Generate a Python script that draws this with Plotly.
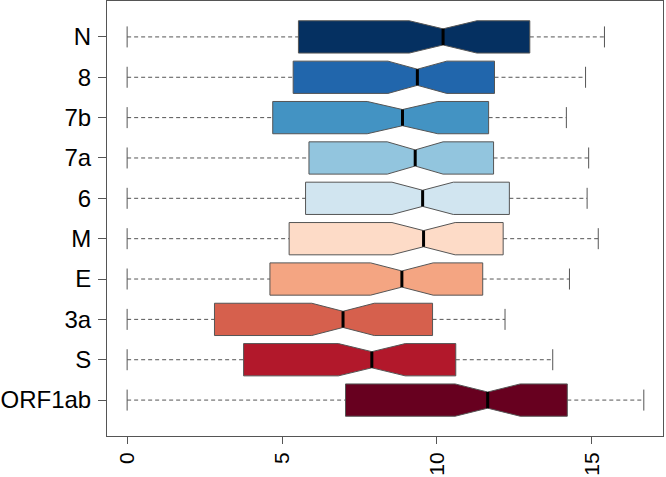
import plotly.graph_objects as go

# Data (bottom to top)
genes = ["ORF1ab", "S", "3a", "E", "M", "6", "7a", "7b", "8", "N"]
mins = [0, 0, 0, 0, 0, 0, 0, 0, 0, 0]
q1 = [7.05, 3.76, 2.82, 4.61, 5.23, 5.76, 5.87, 4.70, 5.36, 5.53]
medians = [11.64, 7.90, 6.97, 8.87, 9.57, 9.54, 9.30, 8.89, 9.37, 10.20]
q3 = [14.21, 10.61, 9.86, 11.48, 12.14, 12.34, 11.83, 11.67, 11.86, 13.00]
maxs = [16.68, 13.74, 12.20, 14.28, 15.21, 14.85, 14.90, 14.18, 14.80, 15.41]
notch_half = [1.05, 1.08, 1.01, 1.01, 1.02, 0.99, 0.90, 1.14, 0.95, 1.09]
colors = ["#67001f", "#b2182b", "#d6604d", "#f4a582", "#fddbc7",
          "#d1e5f0", "#92c5de", "#4393c3", "#2166ac", "#053061"]
xticks = [0, 5, 10, 15]

BOX_W = 0.8
NOTCH_W = 0.25
edge = "#555555"

fig = go.Figure()
for i, g in enumerate(genes):
    # dashed whiskers
    fig.add_trace(go.Scatter(
        x=[mins[i], q1[i], None, q3[i], maxs[i]], y=[i, i, None, i, i],
        mode="lines", line=dict(color=edge, width=1, dash="4px,3px"),
        hoverinfo="skip", showlegend=False))
    # whisker caps
    fig.add_trace(go.Scatter(
        x=[mins[i], maxs[i]], y=[i, i], mode="markers",
        marker=dict(symbol="line-ns", size=15, line=dict(color=edge, width=1)),
        hoverinfo="skip", showlegend=False))
    # notched box
    fig.add_trace(go.Box(
        orientation="h", y=[i], q1=[q1[i]], median=[medians[i]], q3=[q3[i]],
        lowerfence=[q1[i]], upperfence=[q3[i]], notched=True,
        notchspan=[notch_half[i]], notchwidth=NOTCH_W, width=BOX_W,
        whiskerwidth=0, fillcolor=colors[i],
        line=dict(color=edge, width=1), showlegend=False, name=g))
    # thick median
    half = BOX_W / 2 * (1 - 2 * NOTCH_W)
    fig.add_trace(go.Scatter(
        x=[medians[i], medians[i]], y=[i - half, i + half], mode="lines",
        line=dict(color="black", width=3), hoverinfo="skip", showlegend=False))

yfont = dict(family="Liberation Sans, Arial, sans-serif", size=24, color="black")
xfont = dict(family="Liberation Sans, Arial, sans-serif", size=21, color="black")
fig.update_layout(
    width=666, height=477,
    margin=dict(l=107, r=3, t=1, b=41),
    paper_bgcolor="white", plot_bgcolor="white",
    font=yfont, showlegend=False,
    xaxis=dict(range=[-0.65, 17.3], tickvals=xticks, ticktext=[str(t) for t in xticks],
               tickangle=-90, ticks="outside", ticklen=7, tickcolor=edge,
               ticklabelstandoff=0,
               showgrid=False, zeroline=False, showline=True, mirror=True,
               linecolor=edge, linewidth=1, automargin=False, tickfont=xfont),
    yaxis=dict(range=[-0.89, 9.89], tickvals=list(range(len(genes))), ticktext=genes,
               ticks="outside", ticklen=8, tickcolor=edge, ticklabelstandoff=2,
               showgrid=False, zeroline=False, showline=True, mirror=True,
               linecolor=edge, linewidth=1, automargin=False, tickfont=yfont),
)
fig.write_html(
    "out.html",
    config={"displayModeBar": False},
    post_script="document.body.style.margin='0';document.body.style.overflow='hidden';",
)
